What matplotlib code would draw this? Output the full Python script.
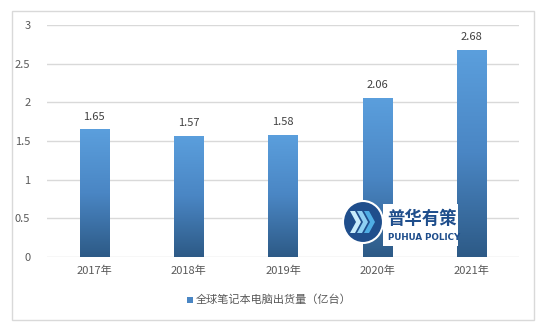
import matplotlib
matplotlib.use("Agg")
import matplotlib.pyplot as plt
import numpy as np
from matplotlib.colors import LinearSegmentedColormap
from matplotlib.patches import Rectangle, Ellipse, Polygon

plt.rcParams['font.family'] = ['Noto Sans CJK SC', 'DejaVu Sans']

categories = ['2017年', '2018年', '2019年', '2020年', '2021年']
values = [1.65, 1.57, 1.58, 2.06, 2.68]
series_name = '全球笔记本电脑出货量（亿台）'
yticks = [0, 0.5, 1, 1.5, 2, 2.5, 3]
ytick_labels = ['0', '0.5', '1', '1.5', '2', '2.5', '3']

W, H = 555, 335
fig = plt.figure(figsize=(W / 100, H / 100), dpi=100)
fig.patch.set_facecolor('white')


def fx(px):
    return px / W


def fy(py):
    return 1 - py / H


# outer border
fig.patches.append(Rectangle((fx(12), fy(320)), (534 - 12) / W, (320 - 11) / H,
                             transform=fig.transFigure, fill=False,
                             edgecolor='#D9D9D9', linewidth=1.0))

ax = fig.add_axes([fx(47), fy(257), (519 - 47) / W, (257 - 25) / H])
for s in ax.spines.values():
    s.set_visible(False)
ax.set_yticks(yticks)
ax.set_yticklabels(ytick_labels)
ax.yaxis.grid(True, color='#D9D9D9', linewidth=1.0)
ax.set_axisbelow(True)
ax.tick_params(axis='both', length=0, labelsize=8, colors='#595959')
ax.tick_params(axis='y', pad=12)
ax.tick_params(axis='x', pad=6)
x = np.arange(len(categories))
ax.set_xticks(x)
ax.set_xticklabels(categories)

cmap = LinearSegmentedColormap.from_list('g', ['#2D5A86', '#4A86C4', '#5B9FDD'])
grad = np.linspace(0, 1, 256).reshape(-1, 1)
bars = ax.bar(x, values, width=0.31, color='none', edgecolor='none', zorder=2)
for b, v in zip(bars, values):
    im = ax.imshow(grad, cmap=cmap, origin='lower', aspect='auto',
                   extent=[b.get_x(), b.get_x() + b.get_width(), 0, v], zorder=2)
    im.set_clip_path(b)
    ax.text(b.get_x() + b.get_width() / 2, v + 0.1, f'{v:.2f}', ha='center',
            va='bottom', fontsize=8, color='#404040')
ax.set_xlim(-0.5, len(categories) - 0.5)
ax.set_ylim(0, 3)

# legend
fig.patches.append(Rectangle((fx(187), fy(303)), 6 / W, 6 / H,
                             transform=fig.transFigure, facecolor='#4A86C4',
                             edgecolor='none'))
fig.text(fx(196), fy(300), series_name, fontsize=8, color='#595959',
         va='center', ha='left')

# watermark logo
fig.patches.append(Rectangle((fx(383), fy(246)), 75 / W, 42 / H,
                             transform=fig.transFigure, facecolor='white',
                             edgecolor='none', zorder=4))
fig.patches.append(Ellipse((fx(363), fy(222)), 40 / W, 42 / H,
                           transform=fig.transFigure, facecolor='#1F4E8C',
                           edgecolor='white', linewidth=1.5, zorder=5))
for dx, col in zip([-9, -2, 5], ['#C9ECFB', '#8FD0F3', '#4FAEE5']):
    cx, cy = 363 + dx, 222
    pts = [(cx - 4, cy - 11), (cx + 1, cy - 11), (cx + 7, cy), (cx + 1, cy + 11),
           (cx - 4, cy + 11), (cx + 2, cy)]
    fig.patches.append(Polygon([(fx(a), fy(b)) for a, b in pts], closed=True,
                               transform=fig.transFigure, facecolor=col,
                               edgecolor='none', zorder=6))
fig.text(fx(387), fy(219), '普华有策', fontsize=12.5, color='#1F4E8C',
         ha='left', va='center', fontweight='bold', zorder=6)
fig.text(fx(388), fy(237), 'PUHUA POLICY', fontsize=6.3, color='#1F4E8C',
         ha='left', va='center', fontweight='bold', zorder=6,
         family=['DejaVu Sans'])

fig.savefig('out.png', dpi=100)
